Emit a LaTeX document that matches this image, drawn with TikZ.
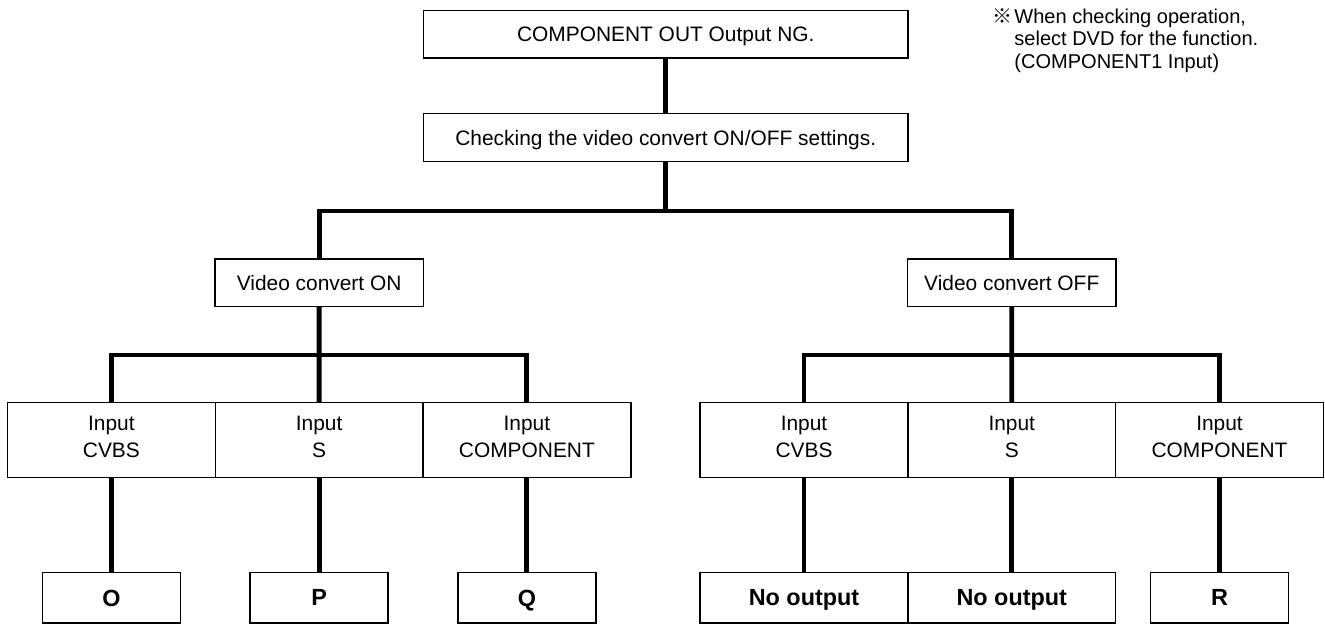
\documentclass[tikz,border=0pt]{standalone}
\usepackage{fontspec}
\setmainfont{Liberation Sans}
\newfontfamily\cjk{Noto Sans CJK JP}
\usepackage{tikz}
\usetikzlibrary{positioning}

\begin{document}
\begin{tikzpicture}[every node/.style={font=\fontsize{11.9}{15.3}\selectfont},
    box/.style={draw, line width=0.85pt, inner sep=0pt, outer sep=0pt, align=center},
    wide/.style={box, minimum width=9.69cm, minimum height=0.95cm, text depth=0pt},
    mode/.style={box, minimum width=4.17cm, minimum height=0.95cm, text depth=0pt},
    input/.style={box, minimum width=4.155cm, minimum height=1.49cm, text depth=0.14cm},
    result/.style={box, minimum width=2.76cm, minimum height=1.01cm, text depth=0pt, font=\fontsize{13.3}{16}\selectfont\bfseries},
    notetext/.style={inner sep=0pt, align=left, font=\fontsize{11.4}{12.8}\selectfont},
    bus/.style={line width=2.8pt}]

  \useasboundingbox (0,0) rectangle (26.5,-12.48);

  \node[wide] (ng) at (13.315,-0.69) {COMPONENT OUT Output NG.};
  \node[wide] (chk) at (13.315,-2.75) {Checking the video convert ON/OFF settings.};

  % remark, base is the last line
  \node[notetext, anchor=base west] (note) at (19.84,-1.366) {%
    {\cjk ※}\hspace{0.1em}When checking operation,\\
    \hphantom{{\cjk ※}\hspace{0.1em}}select DVD for the function.\\
    \hphantom{{\cjk ※}\hspace{0.1em}}(COMPONENT1 Input)};

  \node[mode] (on) at (6.383,-5.657) {Video convert ON};
  \node[mode] (off) at (20.235,-5.657) {Video convert OFF};

  % convert ON
  \node[input] (oncvbs) at (2.228,-8.8) {Input\\CVBS};
  \node[input, right=0cm of oncvbs] (ons) {Input\\S};
  \node[input, right=0cm of ons] (oncomp) {Input\\COMPONENT};

  % convert OFF
  \node[input] (offcvbs) at (16.08,-8.8) {Input\\CVBS};
  \node[input, right=0cm of offcvbs] (offs) {Input\\S};
  \node[input, right=0cm of offs] (offcomp) {Input\\COMPONENT};

  \node[result, below=1.908cm of oncvbs] (o) {O};
  \node[result, below=1.908cm of ons] (p) {P};
  \node[result, below=1.908cm of oncomp] (q) {Q};
  \node[result, minimum width=4.155cm, below=1.908cm of offcvbs] (nocvbs) {No output};
  \node[result, minimum width=4.155cm, below=1.908cm of offs] (nos) {No output};
  \node[result, below=1.908cm of offcomp] (r) {R};

  \coordinate (topbus) at (13.315,-4.22);
  \coordinate (onbus) at (6.383,-7.1);
  \coordinate (offbus) at (20.235,-7.1);

  \draw[bus] (ng) -- (chk);
  \draw[bus] (chk) -- (topbus);
  \draw[bus] (on) |- (topbus) -| (off);

  \draw[bus] (on) -- (ons);
  \draw[bus] (oncvbs) |- (onbus) -| (oncomp);
  \draw[bus] (off) -- (offs);
  \draw[bus] (offcvbs) |- (offbus) -| (offcomp);

  \draw[bus] (oncvbs) -- (o);
  \draw[bus] (ons) -- (p);
  \draw[bus] (oncomp) -- (q);
  \draw[bus] (offcvbs) -- (nocvbs);
  \draw[bus] (offs) -- (nos);
  \draw[bus] (offcomp) -- (r);
\end{tikzpicture}
\end{document}
